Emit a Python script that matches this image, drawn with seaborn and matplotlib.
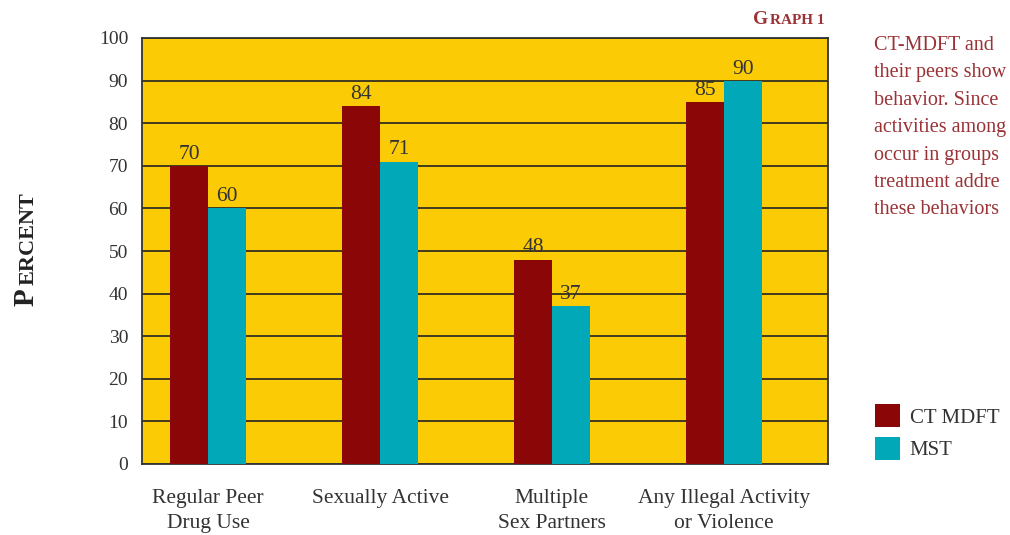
import numpy as np
import pandas as pd
import matplotlib
matplotlib.use('Agg')
import matplotlib.pyplot as plt
import seaborn as sns

### chart data
categories = ['Regular Peer\nDrug Use', 'Sexually Active', 'Multiple\nSex Partners', 'Any Illegal Activity\nor Violence']
ct_mdft = [70, 84, 48, 85]
mst = [60, 71, 37, 90]
groups = ['CT MDFT', 'MST']
y_ticks = [0, 10, 20, 30, 40, 50, 60, 70, 80, 90, 100]
### side paragraph, only the part visible in the page crop
side_text = ['CT-MDFT and', 'their peers show', 'behavior. Since', 'activities among',
             'occur in groups', 'treatment addre', 'these behaviors']

red = '#8B0707'
teal = '#00A8B8'
yellow = '#FBCB05'
txt = '#333333'
dark_red = '#9A3236'

sns.set_style('white')
plt.rcParams['font.family'] = ['Liberation Serif', 'DejaVu Serif']

df = pd.DataFrame({
    'category': categories * 2,
    'group': [groups[0]] * 4 + [groups[1]] * 4,
    'value': ct_mdft + mst,
})

fig = plt.figure(figsize=(10.1, 5.35), dpi=100)
ax = fig.add_axes([142/1010, 1 - 464/535, (828-142)/1010, (464-38)/535])
ax.set_facecolor(yellow)

sns.barplot(data=df, x='category', y='value', hue='group', palette=[red, teal],
            width=0.442, saturation=1, gap=0, linewidth=0, ax=ax, zorder=3)

for c in ax.containers:
    ax.bar_label(c, padding=1.5, fontsize=15.5, color=txt)

ax.set_ylim(0, 100)
ax.set_xlim(-0.384, 3.605)
ax.set_yticks(y_ticks)
ax.yaxis.grid(True, color='#222222', linewidth=1.2, zorder=1)
ax.set_axisbelow(True)
ax.tick_params(axis='y', length=0, labelsize=14, colors=txt, pad=10)
ax.tick_params(axis='x', length=0, labelsize=15.5, colors=txt, pad=18)
for lbl in ax.get_xticklabels():
    lbl.set_horizontalalignment('center')
    lbl.set_multialignment('center')
    lbl.set_linespacing(1.45)
for s in ax.spines.values():
    s.set_color('#333333')
    s.set_linewidth(1.3)
ax.set_xlabel('')
ax.set_ylabel('')

### legend outside plot
leg = ax.legend(loc='upper left', bbox_to_anchor=(867/1010, 1 - 396/535), bbox_transform=fig.transFigure,
                frameon=False, fontsize=15, handlelength=1.2, handleheight=1.3, labelspacing=0.45,
                handletextpad=0.45, borderaxespad=0)
for t in leg.get_texts():
    t.set_color(txt)

### small caps y label
fig.text(34/1010, 1 - 306/535, 'P', rotation=90, rotation_mode='anchor', ha='left', va='baseline',
         fontsize=21, fontweight='bold', color='#222222')
fig.text(34/1010, 1 - 285/535, 'ERCENT', rotation=90, rotation_mode='anchor', ha='left', va='baseline',
         fontsize=16, fontweight='bold', color='#222222')

### small caps title top right
fig.text(825/1010, 1 - 24/535, 'RAPH 1', ha='right', va='baseline', fontsize=11, fontweight='bold', color=dark_red)
fig.text(768/1010, 1 - 24/535, 'G', ha='right', va='baseline', fontsize=14, fontweight='bold', color=dark_red)

### side paragraph
for i, line in enumerate(side_text):
    fig.text(874/1010, 1 - (50 + i * 27.4)/535, line, ha='left', va='baseline', fontsize=14.5, color=dark_red)

fig.savefig('out.png', dpi=100)
